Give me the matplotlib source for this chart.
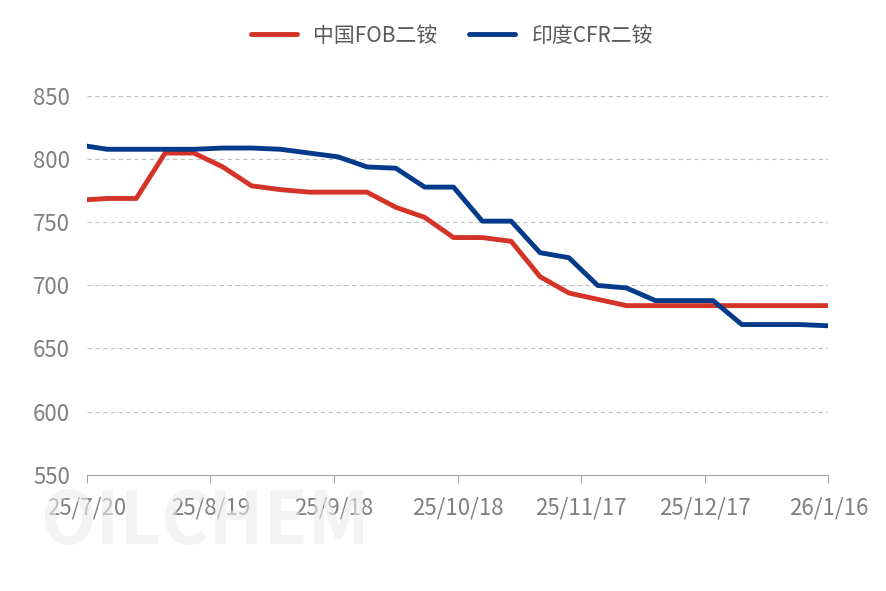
import numpy as np
import matplotlib.pyplot as plt
import matplotlib.dates as mdates
import datetime as dt

plt.rcParams['font.family'] = ['Noto Sans CJK SC', 'DejaVu Sans']

start = dt.date(2025, 7, 20)
day_offsets = [0, 5, 12, 19, 26, 33, 40, 47, 54, 61, 68, 75, 82, 89, 96, 103,
               110, 117, 124, 131, 138, 145, 152, 159, 166, 173, 180]
dates = [start + dt.timedelta(days=d) for d in day_offsets]

china_fob = [768, 769, 769, 805, 805, 794, 779, 776, 774, 774, 774, 762, 754, 738,
             738, 735, 707, 694, 689, 684, 684, 684, 684, 684, 684, 684, 684]
india_cfr = [810.5, 808, 808, 808, 808, 809, 809, 808, 805, 802, 794, 793, 778, 778,
             751, 751, 726, 722, 700, 698, 688, 688, 688, 669, 669, 669, 668]

tick_dates = [start + dt.timedelta(days=30 * i) for i in range(7)]
tick_labels = [f"{d.year % 100}/{d.month}/{d.day}" for d in tick_dates]

fig = plt.figure(figsize=(8.86, 5.91), dpi=100)
ax = fig.add_axes([0.098, 0.197, 0.837, 0.64])

ax.plot(dates, china_fob, color='#d33427', lw=3.5, label='中国FOB二铵', solid_capstyle='round')
ax.plot(dates, india_cfr, color='#043a8a', lw=3.5, label='印度CFR二铵', solid_capstyle='round')

ax.set_ylim(550, 850)
ax.set_yticks(range(550, 851, 50))
ax.set_xlim(dates[0], dates[-1])
ax.set_xticks(tick_dates)
ax.set_xticklabels(tick_labels)
ax.yaxis.grid(True, ls=(0, (4, 3)), color='#c0c0c0', lw=0.8)
ax.set_axisbelow(True)
for s in ['top', 'right', 'left']:
    ax.spines[s].set_visible(False)
ax.spines['bottom'].set_color('#a6a6a6')
ax.tick_params(axis='y', length=0, labelsize=16, labelcolor='#7f7f7f', pad=12)
ax.tick_params(axis='x', length=6, color='#a6a6a6', labelsize=16, labelcolor='#7f7f7f', pad=10)

fig.text(0.045, 0.08, 'OILCHEM', fontsize=52, color='#ebebeb', alpha=0.6,
         fontweight='bold', zorder=0)

fig.legend(loc='upper center', bbox_to_anchor=(0.51, 0.99), ncol=2, frameon=False,
           fontsize=15, labelcolor='#595959', handlelength=2.2, columnspacing=1.5)

fig.savefig('out.png', dpi=100)
